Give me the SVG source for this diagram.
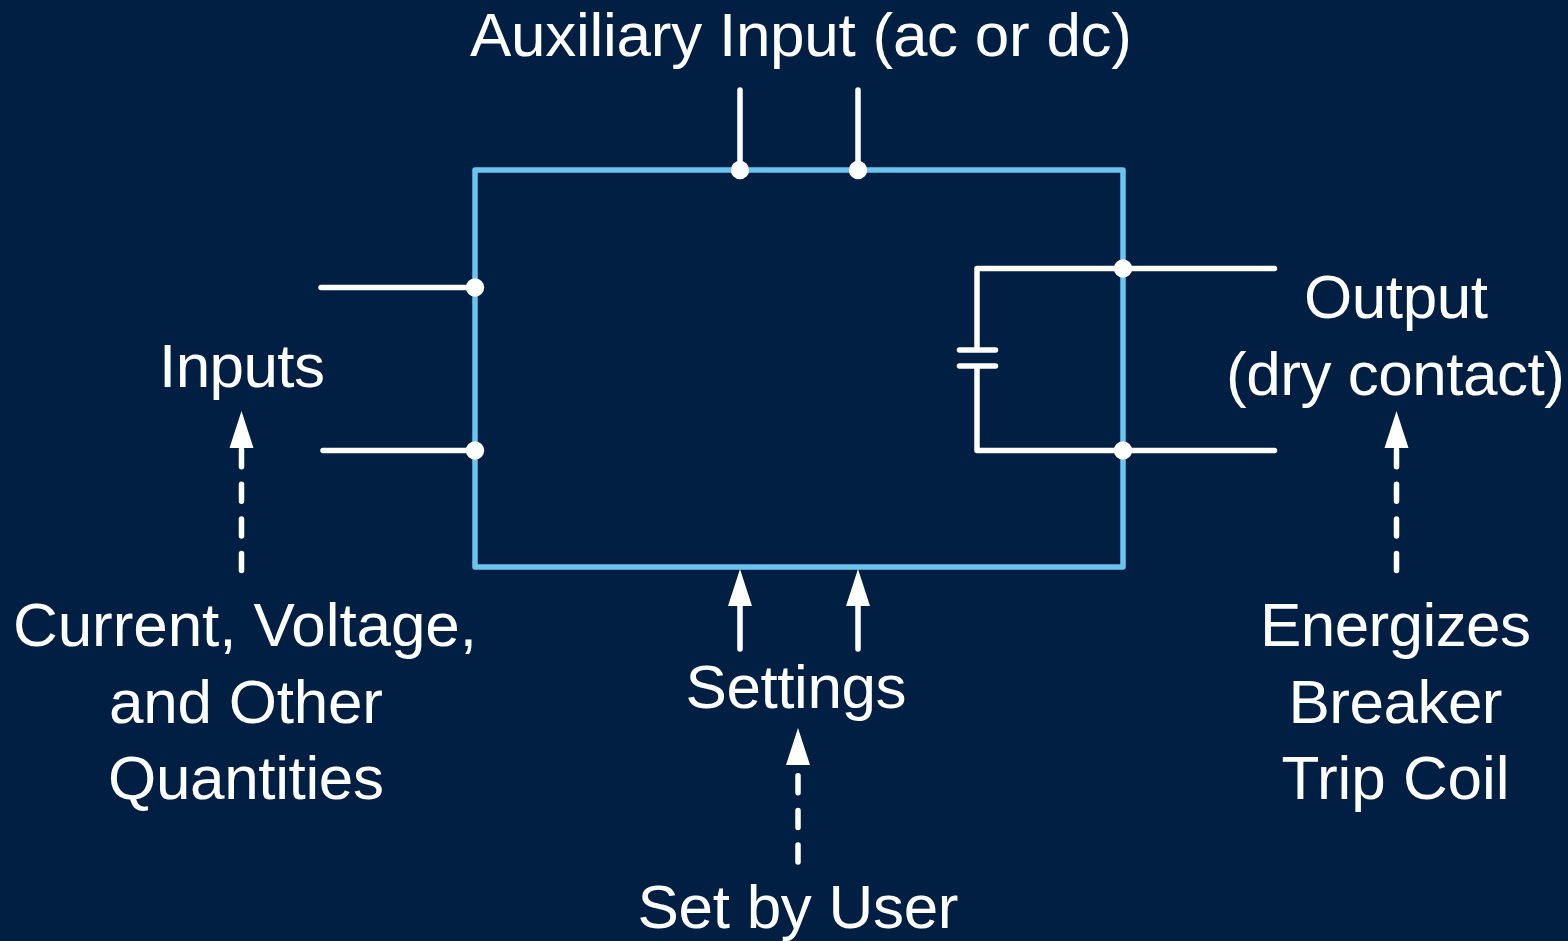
<svg xmlns="http://www.w3.org/2000/svg" width="1568" height="941" viewBox="0 0 1568 941">
<style>
.t{font-family:"Liberation Sans",Arial,sans-serif;font-size:62px;fill:#fff;text-anchor:middle}
.w{fill:none;stroke:#fff;stroke-width:5.5;stroke-linecap:round;stroke-linejoin:round}
.d{stroke-dasharray:17 17.6}
.a{fill:#fff}
.dot{fill:#fff}
</style>
<rect width="1568" height="941" fill="#001f43"/>
<g id="box"><rect x="475" y="170" width="648" height="397" fill="none" stroke="#6cc4ee" stroke-width="5.5" stroke-linejoin="round"/></g>
<g id="connectors">
<path class="w" d="M740 90V170M858 90V170M321 287.500H475M323 450.500H475M1274.500 268.500H977V350M959.500 350H995.500M959.500 366H995.500M977 366V450.500M977 450.500H1274.500"/>
<path class="w" d="M740 649V600M858 649V600"/>
<path class="w d" d="M241.500 570.500V448M1396.500 570.500V448M798 862V765"/>
<path class="a" d="M740 569L752 606H728ZM858 569L870 606H846ZM241.500 411L253.500 448H229.500ZM1396.500 411L1408.500 448H1384.500ZM798 728L810 765H786Z"/>
<circle class="dot" cx="740" cy="170" r="9.200"/><circle class="dot" cx="858" cy="170" r="9.200"/>
<circle class="dot" cx="475" cy="287.500" r="9.200"/><circle class="dot" cx="475" cy="450.500" r="9.200"/>
<circle class="dot" cx="1123" cy="268.500" r="9.200"/><circle class="dot" cx="1123" cy="450.500" r="9.200"/>
</g>
<g id="labels">
<text class="t" x="801" y="56" textLength="662">Auxiliary Input (ac or dc)</text>
<text class="t" x="242" y="387" textLength="166">Inputs</text>
<text class="t" x="1396" y="318" textLength="184">Output</text>
<text class="t" x="1395.500" y="395" textLength="339">(dry contact)</text>
<text class="t" x="245" y="646" textLength="464">Current, Voltage,</text>
<text class="t" x="246" y="723" textLength="274">and Other</text>
<text class="t" x="246" y="799" textLength="276">Quantities</text>
<text class="t" x="796" y="708" textLength="221">Settings</text>
<text class="t" x="798" y="928" textLength="321">Set by User</text>
<text class="t" x="1395.500" y="646" textLength="271">Energizes</text>
<text class="t" x="1395.500" y="723" textLength="214">Breaker</text>
<text class="t" x="1395.500" y="799" textLength="228">Trip Coil</text>
</g>
</svg>
